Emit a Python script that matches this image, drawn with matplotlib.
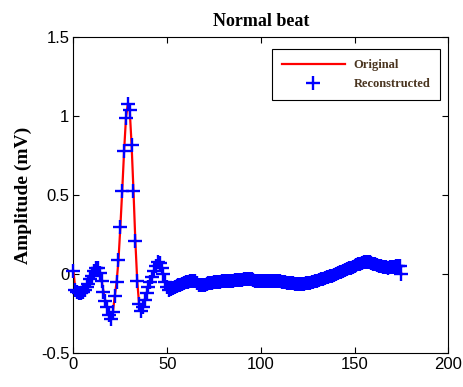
import matplotlib
matplotlib.use('Agg')
from matplotlib import pyplot as plt

# sample index and amplitude (mV)
samples = list(range(176))
original = [
    0.02, -0.10, -0.11, -0.12, -0.12, -0.11, -0.10, -0.08, -0.06, -0.03,
    -0.01, 0.02, 0.04, 0.04, 0.01, -0.04, -0.11, -0.17, -0.21, -0.26,
    -0.28, -0.24, -0.14, -0.05, 0.09, 0.30, 0.53, 0.78, 0.99, 1.08,
    1.04, 0.82, 0.53, 0.21, -0.04, -0.19, -0.235, -0.21, -0.16, -0.12,
    -0.08, -0.05, -0.02, 0.02, 0.05, 0.08, 0.07, 0.04, 0.00, -0.05,
    -0.08, -0.10, -0.09, -0.085, -0.08, -0.075, -0.07, -0.065, -0.06, -0.055,
    -0.05, -0.048, -0.045, -0.042, -0.04, -0.045, -0.055, -0.065, -0.07, -0.068,
    -0.065, -0.06, -0.058, -0.055, -0.053, -0.05, -0.05, -0.048, -0.046, -0.045,
    -0.045, -0.044, -0.043, -0.042, -0.04, -0.04, -0.038, -0.037, -0.036, -0.035,
    -0.034, -0.032, -0.03, -0.028, -0.027, -0.03, -0.035, -0.04, -0.042, -0.043,
    -0.044, -0.044, -0.045, -0.045, -0.045, -0.044, -0.043, -0.043, -0.044, -0.045,
    -0.045, -0.046, -0.048, -0.05, -0.052, -0.054, -0.056, -0.058, -0.06, -0.06,
    -0.061, -0.062, -0.062, -0.06, -0.058, -0.055, -0.052, -0.05, -0.047, -0.044,
    -0.04, -0.036, -0.032, -0.028, -0.024, -0.02, -0.016, -0.012, -0.008, -0.003,
    0.002, 0.007, 0.012, 0.017, 0.022, 0.027, 0.032, 0.037, 0.042, 0.048,
    0.053, 0.058, 0.063, 0.068, 0.072, 0.075, 0.077, 0.078, 0.076, 0.072,
    0.068, 0.063, 0.058, 0.054, 0.05, 0.047, 0.045, 0.044, 0.043, 0.044,
    0.045, 0.047, 0.05, 0.052, 0.055, 0.0,
]
# reconstruction sits on top of the original (same values by eye)
reconstructed = list(original)

x_ticks = [0, 50, 100, 150, 200]
y_ticks = [-0.5, 0, 0.5, 1, 1.5]
y_tick_labels = ['-0.5', '0', '0.5', '1', '1.5']

fig = plt.figure(figsize=(4.64, 3.87), dpi=100)
ax = fig.add_axes([0.1584, 0.0871, 0.8078, 0.8165])

ax.plot(samples, original, color='red', linewidth=1.6, label='Original')
ax.plot(samples, reconstructed, linestyle='none', marker='+', color='blue',
        markersize=10.5, markeredgewidth=1.7, label='Reconstructed',
        clip_on=False, zorder=3)

ax.set_xlim(0, 200)
ax.set_ylim(-0.5, 1.5)
ax.set_xticks(x_ticks)
ax.set_yticks(y_ticks)
ax.set_yticklabels(y_tick_labels)
ax.tick_params(direction='in', length=4, width=0.8, top=True, right=True,
               labelsize=12, pad=3)
for lab in ax.get_xticklabels() + ax.get_yticklabels():
    lab.set_family('Liberation Sans')
for sp in ax.spines.values():
    sp.set_linewidth(0.8)

ax.set_title('Normal beat', family='Liberation Serif', fontweight='bold',
             fontsize=13, pad=8)
ax.set_ylabel('Amplitude (mV)', family='Liberation Serif', fontweight='bold',
              fontsize=14, labelpad=6)

leg = ax.legend(loc='upper right', bbox_to_anchor=(0.978, 0.963),
                borderaxespad=0, fancybox=False, framealpha=1,
                edgecolor='black', handlelength=5, handletextpad=0.7,
                labelspacing=0.6, borderpad=0.8,
                prop={'family': 'Liberation Serif', 'weight': 'bold', 'size': 9})
leg.get_frame().set_linewidth(0.8)
leg.set_zorder(5)
for t in leg.get_texts():
    t.set_color('#4a3520')

plt.savefig('out.png', dpi=100)
